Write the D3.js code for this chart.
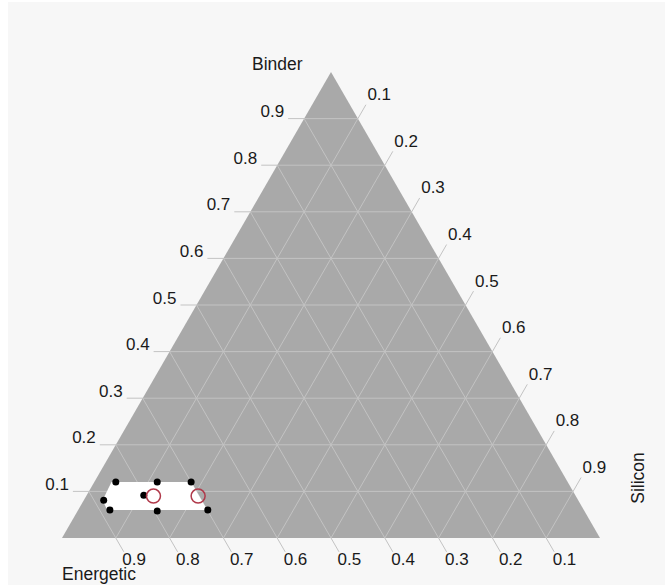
<!DOCTYPE html>
<html>
<head>
<meta charset="utf-8">
<script src="https://cdn.jsdelivr.net/npm/d3@7"></script>
<style>
  html, body { margin: 0; padding: 0; background: #ffffff; }
  svg { display: block; }
  text { font-family: "Liberation Sans", Arial, sans-serif; fill: #1a1a1a; }
</style>
</head>
<body>
<svg id="chart" width="665" height="585"></svg>
<script>
// Ternary mixture diagram: Energetic / Binder / Silicon fractions

const axisNames = ["Energetic", "Binder", "Silicon"];
const tickValues = [0.1, 0.2, 0.3, 0.4, 0.5, 0.6, 0.7, 0.8, 0.9];
const tickLabels = ["0.1", "0.2", "0.3", "0.4", "0.5", "0.6", "0.7", "0.8", "0.9"];

// Design points (fractions of Energetic, Binder, Silicon)
const designEnergetic = [0.84, 0.763, 0.70, 0.882, 0.802, 0.881, 0.794, 0.699];
const designBinder    = [0.12, 0.12, 0.12, 0.081, 0.092, 0.06, 0.058, 0.06];
const designSilicon   = [0.04, 0.117, 0.18, 0.037, 0.106, 0.059, 0.148, 0.241];

// Highlighted (optimum) points
const bestEnergetic = [0.785, 0.702];
const bestBinder    = [0.09, 0.09];
const bestSilicon   = [0.125, 0.208];

// Feasible region boundary vertices
const regionEnergetic = [0.848, 0.70, 0.70, 0.886, 0.884];
const regionBinder    = [0.12, 0.12, 0.06, 0.06, 0.081];
const regionSilicon   = [0.032, 0.18, 0.24, 0.054, 0.035];

const svg = d3.select("#chart");

// panel background
svg.append("rect").attr("x", 8).attr("y", 2).attr("width", 657).attr("height", 583)
  .attr("fill", "#f7f7f7");

// horizontal position runs along the bottom edge (Silicon + Binder/2),
// vertical position is the Binder fraction
const xs = d3.scaleLinear().domain([0, 1]).range([62, 600]);
const ys = d3.scaleLinear().domain([0, 1]).range([538, 72]);
const pt = (e, b, s) => [xs(s + b / 2), ys(b)];

const g = svg.append("g");

// triangle
const corners = [pt(1, 0, 0), pt(0, 1, 0), pt(0, 0, 1)];
g.append("path")
  .attr("d", d3.line()(corners) + "Z")
  .attr("fill", "#a9a9a9");

// grid lines
const gridColor = "#c3c3c3";
const grid = g.append("g").attr("stroke", gridColor).attr("stroke-width", 1).attr("fill", "none");
tickValues.forEach(v => {
  // constant Binder
  grid.append("line").datum([pt(1 - v, v, 0), pt(0, v, 1 - v)])
    .attr("x1", d => d[0][0]).attr("y1", d => d[0][1]).attr("x2", d => d[1][0]).attr("y2", d => d[1][1]);
  // constant Silicon
  grid.append("line").datum([pt(1 - v, 0, v), pt(0, 1 - v, v)])
    .attr("x1", d => d[0][0]).attr("y1", d => d[0][1]).attr("x2", d => d[1][0]).attr("y2", d => d[1][1]);
  // constant Energetic
  grid.append("line").datum([pt(v, 0, 1 - v), pt(v, 1 - v, 0)])
    .attr("x1", d => d[0][0]).attr("y1", d => d[0][1]).attr("x2", d => d[1][0]).attr("y2", d => d[1][1]);
});

// ticks and labels
const tickLen = 16;
const c60 = Math.cos(Math.PI / 3), s60 = Math.sin(Math.PI / 3);
const ticks = svg.append("g").attr("stroke", "#c3c3c3").attr("stroke-width", 1);
const labels = svg.append("g").style("font-size", "17px");

tickValues.forEach((v, i) => {
  // Binder: left edge, pointing left
  let p = pt(1 - v, v, 0);
  ticks.append("line").attr("x1", p[0]).attr("y1", p[1]).attr("x2", p[0] - tickLen).attr("y2", p[1]);
  labels.append("text").attr("x", p[0] - tickLen - 4).attr("y", p[1] - 1.5)
    .attr("text-anchor", "end").text(tickLabels[i]);

  // Silicon: right edge, pointing up-right
  p = pt(0, 1 - v, v);
  const sx = p[0] + tickLen * c60, sy = p[1] - tickLen * s60;
  ticks.append("line").attr("x1", p[0]).attr("y1", p[1]).attr("x2", sx).attr("y2", sy);
  labels.append("text").attr("x", sx + 1.5).attr("y", sy - 4.5).text(tickLabels[i]);

  // Energetic: bottom edge, pointing down-right
  p = pt(v, 0, 1 - v);
  const ex = p[0] + tickLen * c60, ey = p[1] + tickLen * s60;
  ticks.append("line").attr("x1", p[0]).attr("y1", p[1]).attr("x2", ex).attr("y2", ey);
  labels.append("text").attr("x", ex - 1.5).attr("y", ey + 13.5).text(tickLabels[i]);
});

// axis titles
const titles = svg.append("g").style("font-size", "17.5px");
titles.append("text").attr("x", 252).attr("y", 70).text(axisNames[1]);
titles.append("text").attr("x", 62).attr("y", 580).text(axisNames[0]);
titles.append("text").attr("transform", "translate(643.5,478) rotate(-90)")
  .attr("text-anchor", "middle").text(axisNames[2]);

// feasible region
const region = regionEnergetic.map((e, i) => pt(e, regionBinder[i], regionSilicon[i]));
g.append("path").attr("d", d3.line()(region) + "Z").attr("fill", "#ffffff");

// design points
g.append("g").selectAll("circle")
  .data(designEnergetic.map((e, i) => pt(e, designBinder[i], designSilicon[i])))
  .join("circle")
  .attr("cx", d => d[0]).attr("cy", d => d[1]).attr("r", 3.5).attr("fill", "#000");

// optimum points
g.append("g").selectAll("circle")
  .data(bestEnergetic.map((e, i) => pt(e, bestBinder[i], bestSilicon[i])))
  .join("circle")
  .attr("cx", d => d[0]).attr("cy", d => d[1]).attr("r", 7)
  .attr("fill", "none").attr("stroke", "#b0394a").attr("stroke-width", 1.5);
</script>
</body>
</html>
